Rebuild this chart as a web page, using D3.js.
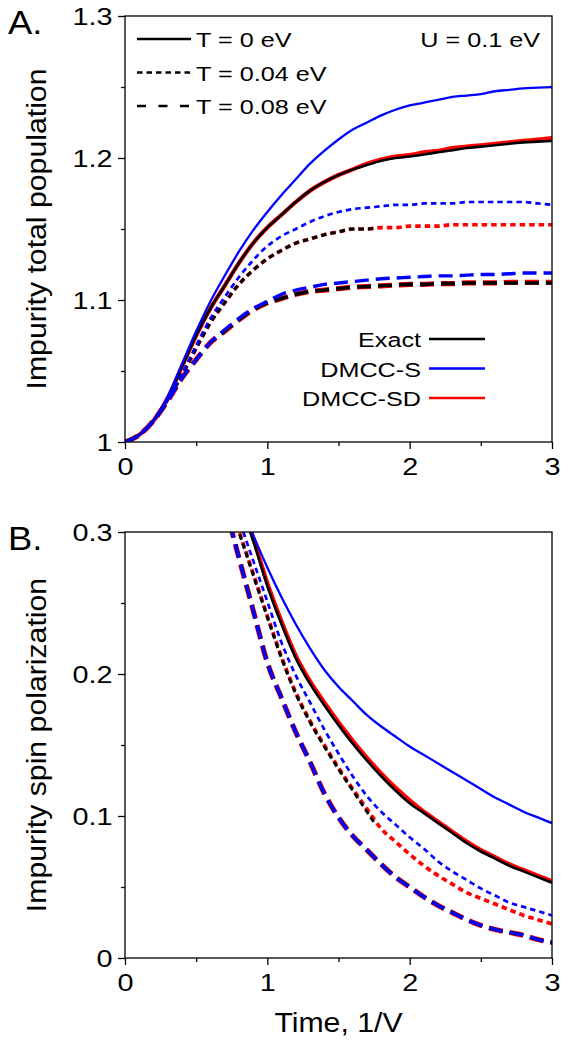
<!DOCTYPE html>
<html><head><meta charset="utf-8">
<script src="https://cdn.jsdelivr.net/npm/d3@7"></script>
<style>
html,body{margin:0;padding:0;background:#fff;}
text{font-family:"Liberation Sans",Arial,Helvetica,sans-serif;fill:#000;}
</style></head>
<body>
<svg id="chart" width="577" height="1045"></svg>
<script>
// ---------- DATA ----------
// Panel A: impurity total population vs time (1/V)
const tA = [0,0.1,0.2,0.3,0.4,0.5,0.6,0.7,0.8,0.9,1.0,1.1,1.2,1.3,1.4,1.5,1.6,1.7,1.8,1.9,2.0,2.1,2.2,2.3,2.4,2.5,2.6,2.7,2.8,2.9,3.0];
const tA_exactWarm = [0,0.1,0.2,0.3,0.4,0.5,0.6,0.7,0.8,0.9,1.0,1.1,1.2,1.3,1.4,1.5,1.6,1.7,1.76];
const popExactT0   = [1.000,1.005,1.015,1.031,1.053,1.075,1.094,1.110,1.126,1.140,1.151,1.160,1.169,1.177,1.183,1.188,1.192,1.195,1.198,1.200,1.201,1.2025,1.204,1.2055,1.207,1.208,1.209,1.210,1.211,1.2115,1.212];
const popSdT0      = [1.000,1.005,1.015,1.031,1.053,1.075,1.094,1.110,1.126,1.140,1.151,1.160,1.169,1.177,1.183,1.188,1.192,1.196,1.199,1.201,1.202,1.204,1.205,1.207,1.208,1.209,1.210,1.211,1.212,1.213,1.214];
const popST0       = [1.000,1.005,1.015,1.032,1.055,1.078,1.099,1.117,1.134,1.149,1.162,1.174,1.185,1.196,1.205,1.213,1.220,1.225,1.230,1.234,1.237,1.239,1.241,1.243,1.244,1.245,1.247,1.248,1.249,1.2495,1.250];
const popExactT004 = [1.000,1.005,1.015,1.030,1.047,1.066,1.084,1.098,1.111,1.121,1.129,1.135,1.140,1.143,1.146,1.148,1.150,1.150,1.151];
const popSdT004    = [1.000,1.005,1.015,1.030,1.047,1.066,1.084,1.098,1.111,1.121,1.129,1.135,1.140,1.143,1.146,1.148,1.150,1.150,1.151,1.151,1.152,1.152,1.152,1.153,1.153,1.153,1.153,1.153,1.153,1.153,1.153];
const popST004     = [1.000,1.005,1.015,1.030,1.048,1.068,1.087,1.102,1.116,1.128,1.138,1.145,1.150,1.155,1.159,1.162,1.164,1.165,1.166,1.167,1.167,1.168,1.168,1.168,1.169,1.169,1.169,1.169,1.169,1.168,1.167];
const popExactT008 = [1.000,1.005,1.015,1.029,1.045,1.058,1.070,1.078,1.086,1.093,1.098,1.101,1.104,1.106,1.107,1.108,1.109,1.1095,1.110,1.1105,1.111,1.111,1.1115,1.1115,1.112,1.112,1.112,1.112,1.112,1.112,1.112];
const popSdT008    = [1.000,1.005,1.015,1.029,1.045,1.058,1.070,1.078,1.086,1.093,1.098,1.101,1.104,1.106,1.107,1.108,1.109,1.1095,1.110,1.1105,1.111,1.111,1.1115,1.1115,1.112,1.112,1.112,1.1125,1.1125,1.1125,1.1125];
const popST008     = [1.000,1.005,1.015,1.029,1.045,1.058,1.070,1.079,1.087,1.094,1.099,1.104,1.107,1.109,1.111,1.112,1.113,1.114,1.115,1.1155,1.116,1.1165,1.117,1.117,1.1175,1.118,1.118,1.1185,1.119,1.119,1.119];

// Panel B: impurity spin polarization vs time (1/V)
const tB = [0.7,0.8,0.9,1.0,1.1,1.2,1.3,1.4,1.5,1.6,1.7,1.8,1.9,2.0,2.1,2.2,2.3,2.4,2.5,2.6,2.7,2.8,2.9,3.0];
const tB_exactWarm = [0.7,0.8,0.9,1.0,1.1,1.2,1.3,1.4,1.5,1.6,1.7,1.76];
const polExactT0   = [0.350,0.322,0.294,0.262,0.235,0.211,0.193,0.178,0.164,0.151,0.139,0.128,0.118,0.109,0.102,0.095,0.088,0.081,0.075,0.070,0.065,0.061,0.057,0.053];
const polSdT0      = [0.352,0.324,0.296,0.264,0.237,0.213,0.195,0.180,0.166,0.153,0.141,0.130,0.120,0.111,0.103,0.096,0.089,0.082,0.076,0.071,0.066,0.062,0.058,0.054];
const polST0       = [0.345,0.322,0.298,0.275,0.254,0.235,0.218,0.203,0.191,0.181,0.171,0.163,0.156,0.149,0.143,0.137,0.131,0.125,0.119,0.113,0.108,0.103,0.099,0.095];
const polExactT004 = [0.330,0.300,0.270,0.240,0.211,0.186,0.166,0.149,0.133,0.118,0.103,0.094];
const polSdT004    = [0.331,0.301,0.271,0.241,0.212,0.187,0.167,0.150,0.134,0.119,0.105,0.091,0.082,0.073,0.065,0.058,0.052,0.046,0.042,0.038,0.034,0.030,0.027,0.024];
const polST004     = [0.338,0.309,0.280,0.251,0.222,0.199,0.180,0.161,0.144,0.128,0.114,0.103,0.094,0.085,0.077,0.068,0.061,0.055,0.049,0.044,0.039,0.036,0.033,0.030];
const polExactT008 = [0.320,0.282,0.245,0.208,0.183,0.159,0.138,0.116,0.099,0.086,0.076,0.066,0.057,0.050,0.043,0.037,0.032,0.027,0.023,0.020,0.018,0.016,0.013,0.011];
const polSdT008    = [0.320,0.282,0.245,0.208,0.183,0.159,0.138,0.116,0.099,0.086,0.076,0.066,0.057,0.050,0.043,0.037,0.032,0.027,0.023,0.020,0.018,0.016,0.013,0.011];
const polST008     = [0.320,0.282,0.245,0.208,0.183,0.159,0.138,0.116,0.099,0.086,0.076,0.066,0.057,0.050,0.043,0.037,0.032,0.027,0.023,0.020,0.018,0.016,0.013,0.011];

const xTicks = [0,1,2,3];
const xTickLabels = ["0","1","2","3"];
const yTicksA = [1,1.1,1.2,1.3];
const yTickLabelsA = ["1","1.1","1.2","1.3"];
const yTicksB = [0,0.1,0.2,0.3];
const yTickLabelsB = ["0","0.1","0.2","0.3"];
const methodNames = ["Exact","DMCC-S","DMCC-SD"];
const tempLabels = ["T = 0 eV","T = 0.04 eV","T = 0.08 eV"];

// ---------- STYLES ----------
const colors = {Exact:"#000000", S:"#0000ff", SD:"#ff0000"};
const dashes = {T0:null, T004:"5.5,4", T008:"14,7"};
const widths = {
  SD:{T0:4.2,T004:3.7,T008:5.2},
  Exact:{T0:2.6,T004:3.0,T008:3.6},
  S:{T0:2.3,T004:2.7,T008:3.4}
};
const SX = 1.2; // horizontal stretch of the reference typeface

const svg = d3.select("#chart");
const x0 = 125, x1 = 552;

function stretchedText(parent, x, y, str, size, anchor, sx){
  return parent.append("text")
    .attr("transform", `translate(${x},${y}) scale(${sx||SX},1)`)
    .attr("text-anchor", anchor||"start")
    .style("font-size", size+"px").text(str);
}

function panel(cfg){
  const g = svg.append("g");
  const x = d3.scaleLinear().domain([0,3]).range([x0,x1]);
  const y = d3.scaleLinear().domain(cfg.yDomain).range([cfg.yBottom,cfg.yTop]);
  const clipId = "clip"+cfg.id;
  svg.append("clipPath").attr("id",clipId).append("rect")
    .attr("x",x0).attr("y",cfg.yTop).attr("width",x1-x0).attr("height",cfg.yBottom-cfg.yTop);

  const lg = g.append("g").attr("clip-path","url(#"+clipId+")");
  const line = d3.line().x(d=>x(d[0])).y(d=>y(d[1])).curve(d3.curveMonotoneX);
  const order = ["SD","Exact","S"];
  const temps = ["T0","T004","T008"];
  order.forEach(m=>{
    temps.forEach(tk=>{
      const s = cfg.series.find(s=>s.m===m && s.temp===tk);
      if(!s) return;
      const pts = s.t.map((t,i)=>[t,s.v[i]]);
      lg.append("path").attr("d",line(pts))
        .attr("fill","none").attr("stroke",colors[m])
        .attr("stroke-width",widths[m][tk])
        .attr("stroke-dasharray",dashes[tk])
        .attr("stroke-linecap","butt")
        .attr("stroke-linejoin","round");
    });
  });

  // frame
  g.append("rect").attr("x",x0).attr("y",cfg.yTop).attr("width",x1-x0).attr("height",cfg.yBottom-cfg.yTop)
    .attr("fill","none").attr("stroke","#000").attr("stroke-width",1.3);

  // axes
  const xAxis = d3.axisBottom(x).tickValues(xTicks).tickFormat((d,i)=>xTickLabels[i]).tickSize(7);
  const xa = g.append("g").attr("transform",`translate(0,${cfg.yBottom})`).call(xAxis);
  const xMinor = d3.axisBottom(x).tickValues([0.5,1.5,2.5]).tickFormat("").tickSize(4);
  g.append("g").attr("transform",`translate(0,${cfg.yBottom})`).call(xMinor);
  const yAxis = d3.axisLeft(y).tickValues(cfg.yTicks).tickFormat((d,i)=>cfg.yTickLabels[i]).tickSize(7);
  const ya = g.append("g").attr("transform",`translate(${x0},0)`).call(yAxis);
  const yMinor = d3.axisLeft(y).tickValues(cfg.yMinor).tickFormat("").tickSize(4);
  g.append("g").attr("transform",`translate(${x0},0)`).call(yMinor);
  g.selectAll(".domain").remove();
  g.selectAll(".tick line").attr("stroke","#000").attr("stroke-width",1.3);
  xa.selectAll("text").style("font-size","24px").attr("y",0).attr("dy",0)
    .attr("transform",`translate(0,33) scale(${SX},1)`);
  ya.selectAll("text").style("font-size","24px").attr("x",0).attr("dy",0)
    .attr("transform",`translate(-12.5,8.5) scale(${SX},1)`);

  // y title (rotated)
  g.append("text").attr("transform",`translate(46,${(cfg.yTop+cfg.yBottom)/2}) rotate(-90) scale(1.12,1)`)
    .attr("text-anchor","middle").style("font-size","27px").text(cfg.yTitle);
  // panel letter
  stretchedText(g, 8, cfg.yTop+18, cfg.letter, 33, "start", 1.1);
  return {g,x,y};
}

const series = (t,v,m,temp)=>({t,v,m,temp});

panel({id:"A", yDomain:[1,1.3], yTop:16, yBottom:442,
  yTicks:yTicksA, yTickLabels:yTickLabelsA, yMinor:[1.05,1.15,1.25],
  yTitle:"Impurity total population", letter:"A.",
  series:[
    series(tA,popSdT0,"SD","T0"), series(tA,popExactT0,"Exact","T0"), series(tA,popST0,"S","T0"),
    series(tA,popSdT004,"SD","T004"), series(tA_exactWarm,popExactT004,"Exact","T004"), series(tA,popST004,"S","T004"),
    series(tA,popSdT008,"SD","T008"), series(tA,popExactT008,"Exact","T008"), series(tA,popST008,"S","T008")
  ]});

panel({id:"B", yDomain:[0,0.3], yTop:532, yBottom:958,
  yTicks:yTicksB, yTickLabels:yTickLabelsB, yMinor:[0.05,0.15,0.25],
  yTitle:"Impurity spin polarization", letter:"B.",
  series:[
    series(tB,polSdT0,"SD","T0"), series(tB,polExactT0,"Exact","T0"), series(tB,polST0,"S","T0"),
    series(tB,polSdT004,"SD","T004"), series(tB_exactWarm,polExactT004,"Exact","T004"), series(tB,polST004,"S","T004"),
    series(tB,polSdT008,"SD","T008"), series(tB,polExactT008,"Exact","T008"), series(tB,polST008,"S","T008")
  ]});

// x axis title
svg.append("text").attr("transform",`translate(${(x0+x1)/2},1032) scale(1.12,1)`)
  .attr("text-anchor","middle").style("font-size","27px").text("Time, 1/V");

// temperature legend (panel A)
const legT = svg.append("g");
tempLabels.forEach((lab,i)=>{
  const yy = 47 + i*33.5;
  legT.append("line").attr("x1",137).attr("x2",191).attr("y1",yy-8).attr("y2",yy-8)
    .attr("stroke","#000").attr("stroke-width",2.6)
    .attr("stroke-dasharray", i===0?null:(i===1?"5.5,4":"9,12.5"));
  stretchedText(legT, 196, yy, lab, 21, "start");
});
stretchedText(svg, 540, 47, "U = 0.1 eV", 21, "end");

// method legend (panel A)
const legM = svg.append("g");
const mKeys = ["Exact","S","SD"];
methodNames.forEach((name,i)=>{
  const yy = 347 + i*29.5;
  stretchedText(legM, 421, yy, name, 21, "end");
  legM.append("line").attr("x1",429).attr("x2",485).attr("y1",yy-8).attr("y2",yy-8)
    .attr("stroke",colors[mKeys[i]]).attr("stroke-width",2.6);
});
</script>
</body></html>
